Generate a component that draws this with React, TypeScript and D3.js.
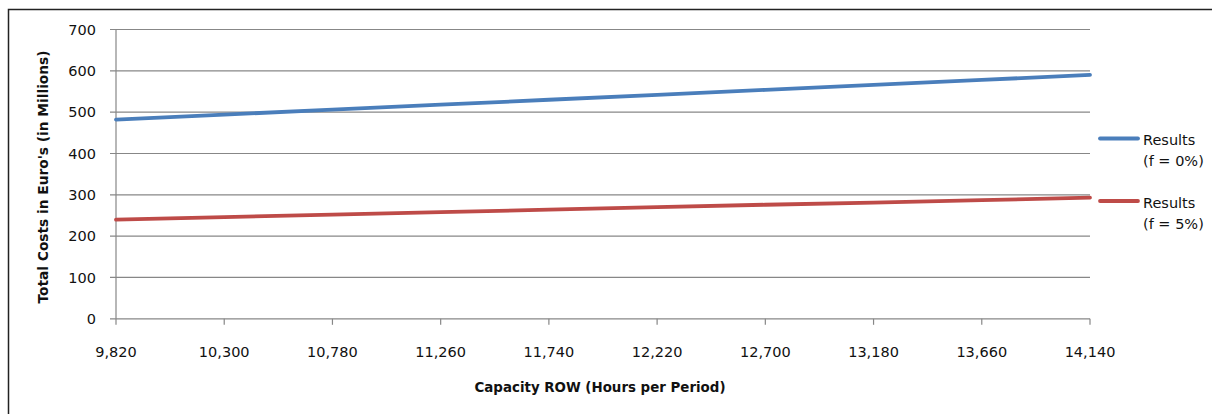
import React from "react";
import * as d3 from "d3";

const categories = ["9,820", "10,300", "10,780", "11,260", "11,740", "12,220", "12,700", "13,180", "13,660", "14,140"];
const resultsF0 = [482, 494, 506, 518, 530, 542, 554, 566, 578, 590];
const resultsF5 = [240, 246, 252, 258, 264, 270, 276, 281, 287, 293];
const yTicks = [0, 100, 200, 300, 400, 500, 600, 700];
const seriesNames = [["Results", "(f = 0%)"], ["Results", "(f = 5%)"]];
const seriesColors = ["#4A7EBB", "#BE4B48"];

const W = 1212, H = 414;
const left = 116, right = 1090, top = 29.5, bottom = 318.8;
const FONT = "'DejaVu Sans', sans-serif";

export default function App() {
  const x = d3.scalePoint<string>().domain(categories).range([left, right]);
  const y = d3.scaleLinear().domain([0, 700]).range([bottom, top]);
  const line = d3.line<number>().x((_, i) => x(categories[i]) as number).y(d => y(d));
  const series = [resultsF0, resultsF5];
  const legendY = [138.5, 201];

  return (
    <svg width={W} height={H} style={{ position: "absolute", left: 0, top: 0, background: "#fff" }}>
      <rect x={8.5} y={9.5} width={W + 10} height={H + 10} fill="#fff" stroke="#222" strokeWidth={1.5} />
      {yTicks.map(t => (
        <g key={t}>
          <line x1={left - 6} x2={right} y1={y(t)} y2={y(t)} stroke="#878787" strokeWidth={1.2} />
          <text x={96} y={y(t)} dy="0.36em" textAnchor="end" fontFamily={FONT} fontSize={14.5} fill="#111">{t}</text>
        </g>
      ))}
      <line x1={left} x2={left} y1={top} y2={bottom} stroke="#878787" strokeWidth={1.2} />
      {categories.map(c => (
        <g key={c}>
          <line x1={x(c)} x2={x(c)} y1={bottom} y2={bottom + 6} stroke="#878787" strokeWidth={1.2} />
          <text x={x(c)} y={357} textAnchor="middle" fontFamily={FONT} fontSize={14.5} fill="#111">{c}</text>
        </g>
      ))}
      {series.map((s, i) => (
        <path key={i} d={line(s) || ""} fill="none" stroke={seriesColors[i]} strokeWidth={3.8} strokeLinecap="round" />
      ))}
      {seriesNames.map((n, i) => (
        <g key={i}>
          <line x1={1100} x2={1138} y1={legendY[i]} y2={legendY[i]} stroke={seriesColors[i]} strokeWidth={3.8} strokeLinecap="round" />
          <text x={1143} y={legendY[i] + 6.5} fontFamily={FONT} fontSize={14.5} fill="#111">{n[0]}</text>
          <text x={1143} y={legendY[i] + 27.5} fontFamily={FONT} fontSize={14.5} fill="#111">{n[1]}</text>
        </g>
      ))}
      <text x={600} y={392} textAnchor="middle" fontFamily={FONT} fontSize={14.5} fontWeight="bold" fill="#111"
        textLength={251} lengthAdjust="spacingAndGlyphs">Capacity ROW (Hours per Period)</text>
      <text transform="translate(48,177) rotate(-90)" textAnchor="middle" fontFamily={FONT} fontSize={14.5} fontWeight="bold" fill="#111"
        textLength={253} lengthAdjust="spacingAndGlyphs">Total Costs in Euro's (in Millions)</text>
    </svg>
  );
}
